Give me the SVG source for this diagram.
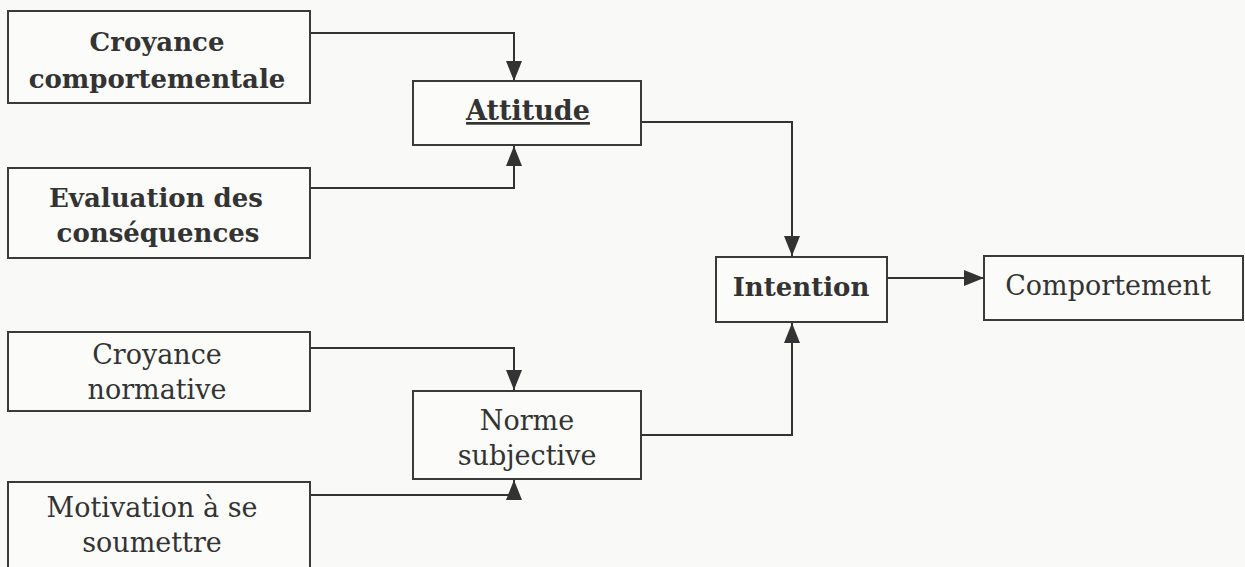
<svg xmlns="http://www.w3.org/2000/svg" width="1245" height="567" viewBox="0 0 1245 567">
<style>
.box{fill:#fbfbf9;stroke:#3a3a3a;stroke-width:2}
.t{font-family:"DejaVu Serif","Liberation Serif",serif;font-size:27px;fill:#333;text-anchor:middle}
.b{font-weight:bold;font-size:26px}
.c{fill:none;stroke:#333;stroke-width:2}
</style>
<defs>
<marker id="ah" viewBox="0 0 20 16" refX="20" refY="8" markerWidth="20" markerHeight="16" markerUnits="userSpaceOnUse" orient="auto"><path d="M0,0 L20,8 L0,16 Z" fill="#333"/></marker>
</defs>
<rect width="1245" height="567" fill="#f9f9f7"/>
<g id="connectors">
<path class="c" d="M310,33 H514 V81" marker-end="url(#ah)"/>
<path class="c" d="M310,188 H514 V146" marker-end="url(#ah)"/>
<path class="c" d="M641,122 H792 V256" marker-end="url(#ah)"/>
<path class="c" d="M641,435 H792 V323" marker-end="url(#ah)"/>
<path class="c" d="M887,278 H984" marker-end="url(#ah)"/>
<path class="c" d="M310,348 H514 V390" marker-end="url(#ah)"/>
<path class="c" d="M310,495 H514 V480" marker-end="url(#ah)"/>
</g>
<g id="croyance-comportementale"><rect class="box" x="8" y="11" width="302" height="92"/><text class="t b" x="157" y="51">Croyance</text><text class="t b" x="157" y="88">comportementale</text></g>
<g id="attitude"><rect class="box" x="413" y="81" width="228" height="64"/><text class="t b" x="528" y="120" style="font-size:27px" text-decoration="underline">Attitude</text></g>
<g id="evaluation"><rect class="box" x="8" y="168" width="302" height="90"/><text class="t b" x="156" y="207">Evaluation des</text><text class="t b" x="158" y="242">conséquences</text></g>
<g id="intention"><rect class="box" x="716" y="257" width="171" height="65"/><text class="t b" x="801" y="296">Intention</text></g>
<g id="comportement"><rect class="box" x="984" y="256" width="259" height="64"/><text class="t" x="1108" y="295">Comportement</text></g>
<g id="croyance-normative"><rect class="box" x="8" y="332" width="302" height="79"/><text class="t" x="157" y="364">Croyance</text><text class="t" x="157" y="399">normative</text></g>
<g id="norme-subjective"><rect class="box" x="413" y="391" width="228" height="88"/><text class="t" x="527" y="430">Norme</text><text class="t" x="527" y="465">subjective</text></g>
<g id="motivation"><rect class="box" x="8" y="482" width="302" height="100"/><text class="t" x="152" y="517">Motivation à se</text><text class="t" x="152" y="552">soumettre</text></g>
</svg>
